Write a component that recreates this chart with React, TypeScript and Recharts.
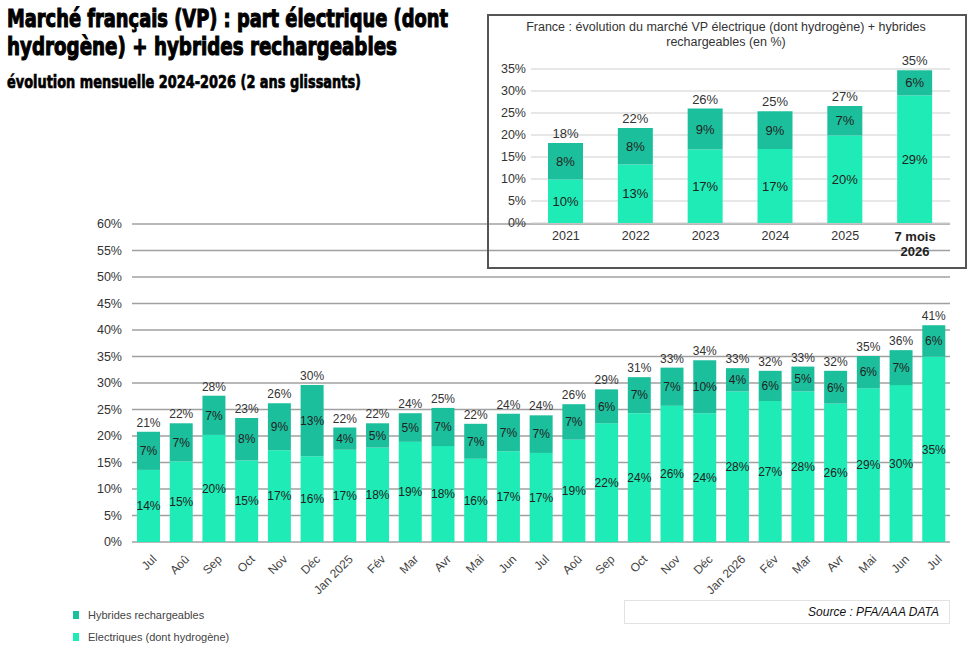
import React from "react";
import { Bar, BarChart, CartesianGrid, LabelList, XAxis, YAxis } from "recharts";

// Part de marché mensuelle (en %)
const months = [
  "Jul", "Aoû", "Sep", "Oct", "Nov", "Déc", "Jan 2025", "Fév", "Mar", "Avr", "Mai", "Jun",
  "Jul", "Aoû", "Sep", "Oct", "Nov", "Déc", "Jan 2026", "Fév", "Mar", "Avr", "Mai", "Jun", "Jul",
];
const electric = [
  13.6, 15.2, 20.2, 15.4, 17.3, 16.2, 17.4, 17.8, 18.9, 18.1, 15.7, 17.1,
  16.8, 19.3, 22.4, 24.3, 25.7, 24.3, 28.4, 26.6, 28.4, 26.1, 29.0, 29.6, 35.0,
];
const hybrid = [
  7.2, 7.2, 7.4, 8.0, 8.9, 13.4, 4.2, 4.6, 5.4, 7.2, 6.6, 7.1,
  7.1, 6.7, 6.4, 6.8, 7.2, 10.0, 4.4, 5.7, 4.7, 6.2, 6.1, 6.6, 5.9,
];
const totals = [
  21, 22, 28, 23, 26, 30, 22, 22, 24, 25, 22, 24,
  24, 26, 29, 31, 33, 34, 33, 32, 33, 32, 35, 36, 41,
];
const mainTicks = [0, 5, 10, 15, 20, 25, 30, 35, 40, 45, 50, 55, 60];

// Encart annuel
const years = ["2021", "2022", "2023", "2024", "2025", "7 mois 2026"];
const yearElectric = [9.9, 13.3, 16.7, 16.8, 19.9, 29.0];
const yearHybrid = [8.3, 8.3, 9.3, 8.6, 6.7, 5.7];
const yearTotals = [18, 22, 26, 25, 27, 35];
const insetTicks = [0, 5, 10, 15, 20, 25, 30, 35];

const ELEC = "#1eebb5";
const HYB = "#1cbf9c";
const SANS = "'Liberation Sans', Arial, sans-serif";

const mainRows = months.map((m, i) => ({ month: m, elec: electric[i], hyb: hybrid[i], total: totals[i] }));
const yearRows = years.map((y, i) => ({ year: y, elec: yearElectric[i], hyb: yearHybrid[i], total: yearTotals[i] }));

const pct = (v: any) => `${Math.round(Number(v))}%`;

function MonthTick(props: any) {
  const { x, y, payload } = props;
  return (
    <text
      transform={`translate(${x + 6},${y + 7}) rotate(-45)`}
      textAnchor="end"
      dy="0.35em"
      fontSize={12}
      fill="#444"
      fontFamily={SANS}
    >
      {payload.value}
    </text>
  );
}

function YearTick(props: any) {
  const { x, y, payload } = props;
  if (payload.value === "7 mois 2026") {
    return (
      <text x={x} y={y} textAnchor="middle" fontSize={13} fontWeight="bold" fill="#222" fontFamily={SANS}>
        <tspan x={x} dy="0.75em">7 mois</tspan>
        <tspan x={x} dy="1.2em">2026</tspan>
      </text>
    );
  }
  return (
    <text x={x} y={y} dy="0.7em" textAnchor="middle" fontSize={12.5} fill="#333" fontFamily={SANS}>
      {payload.value}
    </text>
  );
}

const titleStyle = { fontFamily: "'DejaVu Sans', sans-serif", fontWeight: "bold" as const };

export default function App() {
  return (
    <div style={{ position: "absolute", left: 0, top: 0, width: 968, height: 648, background: "#fff", overflow: "hidden" }}>
      {/* titres */}
      <svg width={480} height={100} style={{ position: "absolute", left: 0, top: 0 }}>
        <text x={7} y={27} {...titleStyle} fontSize={24} stroke="#000" strokeWidth={1.1} textLength={441} lengthAdjust="spacingAndGlyphs" fill="#000">
          Marché français (VP) : part électrique (dont
        </text>
        <text x={7} y={55} {...titleStyle} fontSize={24} stroke="#000" strokeWidth={1.1} textLength={390} lengthAdjust="spacingAndGlyphs" fill="#000">
          hydrogène) + hybrides rechargeables
        </text>
        <text x={7} y={88} {...titleStyle} fontSize={17} stroke="#000" strokeWidth={0.7} textLength={354} lengthAdjust="spacingAndGlyphs" fill="#000">
          évolution mensuelle 2024-2026 (2 ans glissants)
        </text>
      </svg>

      {/* graphique mensuel */}
      <div style={{ position: "absolute", left: 0, top: 0 }}>
        <BarChart width={968} height={648} data={mainRows} margin={{ top: 224, right: 18, bottom: 0, left: 0 }} barCategoryGap={0}>
          <CartesianGrid vertical={false} stroke="#a0a0a0" strokeWidth={1.3} />
          <XAxis dataKey="month" interval={0} tickLine={false} axisLine={false} tick={<MonthTick />} height={106} />
          <YAxis
            domain={[0, 60]}
            ticks={mainTicks}
            interval={0}
            width={132}
            tickLine={false}
            axisLine={false}
            tickSize={6}
            tickMargin={4}
            tickFormatter={(v) => `${v}%`}
            tick={{ fontSize: 12.5, fill: "#333", fontFamily: SANS }}
          />
          <Bar dataKey="elec" stackId="s" fill={ELEC} barSize={23} isAnimationActive={false}>
            <LabelList dataKey="elec" position="center" formatter={pct} style={{ fontSize: 12, fill: "#222", fontFamily: SANS }} />
          </Bar>
          <Bar dataKey="hyb" stackId="s" fill={HYB} barSize={23} isAnimationActive={false}>
            <LabelList dataKey="hyb" position="center" formatter={pct} style={{ fontSize: 12, fill: "#222", fontFamily: SANS }} />
            <LabelList dataKey="total" position="top" offset={5} formatter={pct} style={{ fontSize: 12, fill: "#333", fontFamily: SANS }} />
          </Bar>
        </BarChart>
      </div>

      {/* encart annuel */}
      <div style={{ position: "absolute", left: 487, top: 14, width: 476, height: 251, border: "2px solid #555", boxSizing: "content-box" }} />
      <div style={{ position: "absolute", left: 487, top: 20, width: 478, textAlign: "center", fontFamily: SANS, fontSize: 12.5, lineHeight: "15px", color: "#333" }}>
        France : évolution du marché VP électrique (dont hydrogène) + hybrides
        <br />
        rechargeables (en %)
      </div>
      <div style={{ position: "absolute", left: 0, top: 0 }}>
        <BarChart width={968} height={648} data={yearRows} margin={{ top: 69, right: 18, bottom: 385, left: 0 }}>
          <CartesianGrid vertical={false} stroke="#cfcfcf" strokeWidth={1} />
          <XAxis dataKey="year" interval={0} tickLine={false} axisLine={false} tick={<YearTick />} height={40} />
          <YAxis
            domain={[0, 35]}
            ticks={insetTicks}
            interval={0}
            width={531}
            tickLine={false}
            axisLine={false}
            tickSize={2}
            tickMargin={3}
            tickFormatter={(v) => `${v}%`}
            tick={{ fontSize: 12.5, fill: "#333", fontFamily: SANS }}
          />
          <Bar dataKey="elec" stackId="y" fill={ELEC} barSize={35} isAnimationActive={false}>
            <LabelList dataKey="elec" position="center" formatter={pct} style={{ fontSize: 13, fill: "#222", fontFamily: SANS }} />
          </Bar>
          <Bar dataKey="hyb" stackId="y" fill={HYB} barSize={35} isAnimationActive={false}>
            <LabelList dataKey="hyb" position="center" formatter={pct} style={{ fontSize: 13, fill: "#222", fontFamily: SANS }} />
            <LabelList dataKey="total" position="top" offset={5} formatter={pct} style={{ fontSize: 13, fill: "#333", fontFamily: SANS }} />
          </Bar>
        </BarChart>
      </div>

      {/* légende */}
      <div style={{ position: "absolute", left: 73, top: 609, fontFamily: SANS, fontSize: 11, color: "#444" }}>
        <div style={{ display: "flex", alignItems: "center", height: 12 }}>
          <span style={{ width: 6, height: 8, background: HYB, display: "inline-block" }} />
          <span style={{ marginLeft: 9 }}>Hybrides rechargeables</span>
        </div>
        <div style={{ display: "flex", alignItems: "center", height: 12, marginTop: 10 }}>
          <span style={{ width: 6, height: 8, background: ELEC, display: "inline-block" }} />
          <span style={{ marginLeft: 9 }}>Electriques (dont hydrogène)</span>
        </div>
      </div>

      {/* source */}
      <div
        style={{
          position: "absolute",
          left: 624,
          top: 600,
          width: 314,
          height: 22,
          border: "1px solid #e2e2e2",
          textAlign: "right",
          paddingRight: 10,
          fontFamily: SANS,
          fontStyle: "italic",
          fontSize: 12,
          lineHeight: "22px",
          color: "#111",
        }}
      >
        Source : PFA/AAA DATA
      </div>
    </div>
  );
}
